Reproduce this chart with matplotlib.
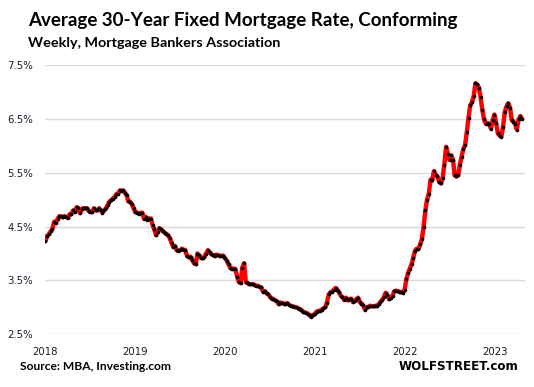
import matplotlib
matplotlib.use("Agg")
import matplotlib.pyplot as plt
import matplotlib.dates as mdates
import pandas as pd

# Weekly MBA 30-year fixed rate (conforming), %
rates_2018 = [4.23, 4.33, 4.36, 4.41, 4.46, 4.59, 4.57, 4.64, 4.69, 4.69, 4.67, 4.69, 4.68,
              4.66, 4.73, 4.73, 4.80, 4.77, 4.86, 4.84, 4.75, 4.83, 4.84, 4.84, 4.84, 4.79,
              4.77, 4.77, 4.84, 4.80, 4.80, 4.84, 4.80, 4.76, 4.80, 4.84, 4.90, 4.96, 4.99,
              5.02, 5.05, 5.10, 5.11, 5.17, 5.16, 5.17, 5.13, 5.08, 4.97, 4.96, 4.92, 4.84]
rates_2019 = [4.77, 4.76, 4.74, 4.75, 4.76, 4.65, 4.68, 4.63, 4.65, 4.65, 4.53, 4.45, 4.34,
              4.40, 4.47, 4.45, 4.41, 4.39, 4.36, 4.34, 4.28, 4.20, 4.12, 4.14, 4.06, 4.05,
              4.06, 4.09, 4.07, 4.06, 3.95, 3.93, 3.94, 3.88, 3.82, 3.80, 4.00, 3.97, 3.92,
              3.91, 3.94, 4.00, 4.06, 4.02, 3.99, 3.97, 3.95, 3.98, 3.97, 3.95, 3.96, 3.96]
rates_2020 = [3.91, 3.87, 3.80, 3.74, 3.71, 3.72, 3.71, 3.57, 3.47, 3.45, 3.74, 3.82, 3.47,
              3.45, 3.43, 3.43, 3.43, 3.42, 3.40, 3.40, 3.38, 3.37, 3.29, 3.30, 3.26, 3.24,
              3.20, 3.16, 3.15, 3.13, 3.11, 3.06, 3.09, 3.08, 3.07, 3.06, 3.08, 3.05, 3.03,
              3.02, 3.01, 3.00, 2.99, 2.97, 2.96, 2.92, 2.91, 2.90, 2.88, 2.85, 2.83, 2.86]
rates_2021 = [2.88, 2.92, 2.93, 2.94, 2.96, 2.98, 3.00, 3.08, 3.24, 3.28, 3.29, 3.33, 3.36,
              3.33, 3.28, 3.22, 3.19, 3.14, 3.18, 3.13, 3.15, 3.16, 3.10, 3.12, 3.15, 3.18,
              3.10, 3.07, 3.04, 2.96, 3.00, 3.01, 3.03, 3.02, 3.02, 3.03, 3.02, 3.06, 3.10,
              3.14, 3.19, 3.27, 3.23, 3.15, 3.18, 3.22, 3.30, 3.31, 3.30, 3.29, 3.28, 3.27]
rates_2022_23 = [3.33, 3.52, 3.64, 3.72, 3.80, 3.92, 4.05, 4.09, 4.08, 4.17, 4.27, 4.50, 4.80,
                 5.00, 5.11, 5.37, 5.36, 5.53, 5.46, 5.43, 5.33, 5.30, 5.40, 5.65, 5.98, 5.84,
                 5.74, 5.82, 5.74, 5.45, 5.43, 5.45, 5.65, 5.80, 5.94, 6.01, 6.25, 6.52, 6.75,
                 6.81, 6.92, 7.16, 7.14, 7.08, 6.90, 6.67, 6.49, 6.41, 6.42, 6.40, 6.32, 6.48,
                 6.58, 6.42, 6.23, 6.19, 6.17, 6.35, 6.63, 6.73, 6.79, 6.71, 6.48, 6.45, 6.40,
                 6.30, 6.49, 6.55, 6.50]

rates = rates_2018 + rates_2019 + rates_2020 + rates_2021 + rates_2022_23
start_date = "2018-01-03"
dates = pd.date_range(start_date, periods=len(rates), freq="W-WED")

y_ticks = [2.5, 3.5, 4.5, 5.5, 6.5, 7.5]
y_tick_labels = ["2.5%", "3.5%", "4.5%", "5.5%", "6.5%", "7.5%"]
x_years = [2018, 2019, 2020, 2021, 2022, 2023]

title = "Average 30-Year Fixed Mortgage Rate, Conforming"
subtitle = "Weekly, Mortgage Bankers Association"
source = "Source: MBA, Investing.com"
brand = "WOLFSTREET.com"

W, H = 534, 387
fig = plt.figure(figsize=(W / 100, H / 100), dpi=100)
fig.patch.set_facecolor("white")

ax_left, ax_right, ax_top, ax_bot = 45, 525, 65, 334.3
ax = fig.add_axes([ax_left / W, 1 - ax_bot / H, (ax_right - ax_left) / W, (ax_bot - ax_top) / H])
ax.set_facecolor("white")

ax.plot(dates, rates, color="#ff0000", lw=3.2, solid_capstyle="round", zorder=3)
ax.plot(dates, rates, linestyle="none", marker="o", ms=2.6, mfc="black", mec="black",
        mew=0, zorder=4)

ax.set_ylim(2.5, 7.5)
ax.set_yticks(y_ticks)
ax.set_yticklabels(y_tick_labels)
x_tick_dates = [pd.Timestamp(f"{y}-01-01") for y in x_years]
ax.set_xticks(x_tick_dates)
ax.set_xticklabels([str(y) for y in x_years])
ax.set_xlim(pd.Timestamp("2018-01-01"), pd.Timestamp("2023-05-01"))

for s in ax.spines.values():
    s.set_visible(False)
ax.grid(axis="y", color="#d9d9d9", lw=1.0, zorder=0)
ax.grid(axis="x", visible=False)
ax.tick_params(axis="both", length=0, labelsize=7.3, colors="#1a1a2a")
ax.tick_params(axis="y", pad=8.5)
ax.tick_params(axis="x", pad=9)

renderer = fig.canvas.get_renderer()


def fit(t, target_px):
    for _ in range(4):
        bb = t.get_window_extent(renderer=renderer)
        t.set_fontsize(t.get_fontsize() * target_px / bb.width)


t1 = fig.text(28 / W, 1 - 20.5 / H, title, fontsize=13, fontweight="bold",
              family="Lato", va="center", ha="left", color="black")
fit(t1, 430)
t2 = fig.text(28 / W, 1 - 43 / H, subtitle, fontsize=9, fontweight="bold",
              family="Lato", va="center", ha="left", color="black")
fit(t2, 253)
t3 = fig.text(20 / W, 1 - 367 / H, source, fontsize=8, fontweight="bold",
              family="Lato", va="center", ha="left", color="black")
fit(t3, 152)
t4 = fig.text(399 / W, 1 - 366.5 / H, brand, fontsize=10, fontweight="bold",
              family="DejaVu Sans", va="center", ha="left", color="black")
fit(t4, 120)

fig.savefig("out.png", dpi=100, facecolor="white")
